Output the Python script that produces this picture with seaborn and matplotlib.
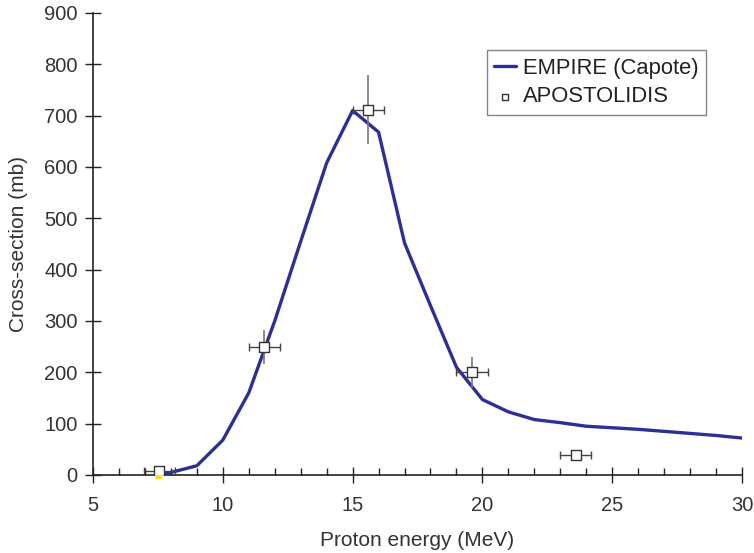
import numpy as np
import pandas as pd
import matplotlib
matplotlib.use("Agg")
import matplotlib.pyplot as plt
import seaborn as sns

# EMPIRE (Capote) curve
empire_e = [7.6, 8, 9, 10, 11, 12, 13, 14, 15, 16, 17, 18, 19, 20, 21, 22, 23, 24, 25, 26, 27, 28, 29, 30]
empire_xs = [0, 5, 18, 68, 160, 300, 455, 608, 710, 668, 452, 330, 210, 147, 123, 108, 102, 95, 92, 89, 85, 81, 77, 72]

# APOSTOLIDIS data
apo_e = [7.55, 11.6, 15.6, 19.6, 23.6]
apo_xs = [8, 250, 712, 200, 39]
apo_xerr = [0.6, 0.6, 0.6, 0.6, 0.6]
apo_yerr = [0, 33, 68, 30, 0]

# small yellow marker at origin
yellow_e = [7.5]
yellow_xs = [0]

sns.set_theme(style="white")
plt.rcParams['font.family'] = ['Liberation Sans', 'DejaVu Sans']

fig = plt.figure(figsize=(7.54, 5.53), dpi=100)
ax = fig.add_axes([93/754, 1-475/553, (742-93)/754, (475-13)/553])

df = pd.DataFrame({"e": empire_e, "xs": empire_xs})
sns.lineplot(data=df, x="e", y="xs", ax=ax, color="#2b2f96", lw=2.4,
             label="EMPIRE (Capote)", zorder=3)

ax.errorbar(apo_e, apo_xs, xerr=apo_xerr, fmt="none", ecolor="#444444",
            elinewidth=1.0, capsize=3, capthick=1.0, zorder=4)
ax.errorbar(apo_e, apo_xs, yerr=apo_yerr, fmt="none", ecolor="#777777",
            elinewidth=1.2, capsize=0, zorder=4)
dfa = pd.DataFrame({"e": apo_e, "xs": apo_xs})
sns.scatterplot(data=dfa, x="e", y="xs", ax=ax, marker="s", s=45,
                facecolor="white", edgecolor="#333333", linewidth=1.0,
                label="APOSTOLIDIS", zorder=5)
ax.plot(yellow_e, yellow_xs, marker="^", color="#f2e600", ms=5, ls="none",
        zorder=2, clip_on=False)

ax.set_xlim(5, 30)
ax.set_ylim(0, 900)
ax.set_xticks(np.arange(5, 31, 5))
ax.set_xticks(np.arange(5, 31, 1), minor=True)
ax.set_yticks(np.arange(0, 901, 100))

for s in ["top", "right"]:
    ax.spines[s].set_visible(False)
for s in ["left", "bottom"]:
    ax.spines[s].set_color("#222222")
    ax.spines[s].set_linewidth(1.2)

ax.tick_params(axis="both", which="major", direction="inout", length=12,
               width=1.0, color="#222222", labelsize=14.5, labelcolor="#333333",
               left=True, bottom=True)
ax.tick_params(axis="y", which="major", pad=5)
ax.tick_params(axis="x", which="major", pad=9)
ax.tick_params(axis="x", which="minor", direction="in", length=5,
               width=1.0, color="#222222", bottom=True)

ax.set_xlabel("Proton energy (MeV)", fontsize=15, color="#333333", labelpad=12)
ax.set_ylabel("Cross-section (mb)", fontsize=15, color="#333333", labelpad=12)

leg = ax.legend(loc="upper right", bbox_to_anchor=(0.945, 0.92), fontsize=15.8,
                frameon=True, fancybox=False, edgecolor="#666666",
                handlelength=1.0, handletextpad=0.3, borderpad=0.35,
                labelspacing=0.35, borderaxespad=0, markerscale=0.65)
leg.get_frame().set_linewidth(1.0)
for t in leg.get_texts():
    t.set_color("#222222")

fig.savefig("out.png", dpi=100)
